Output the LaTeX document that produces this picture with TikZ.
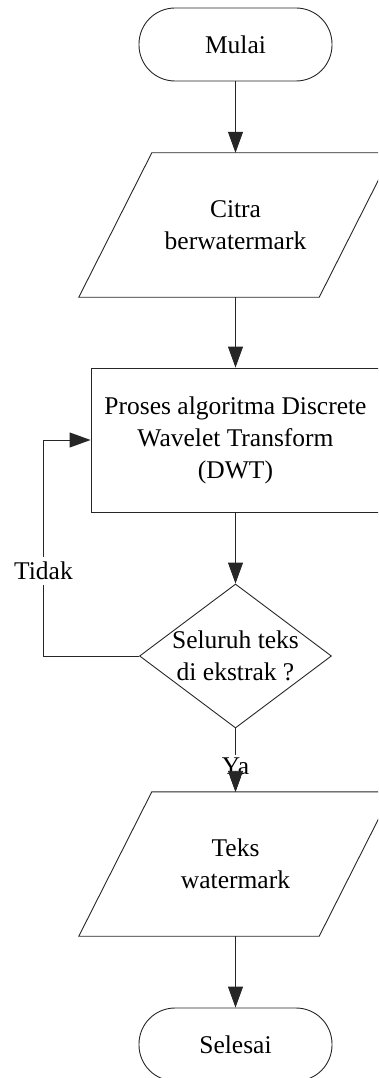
\documentclass[tikz,border=0pt]{standalone}
\usepackage{fontspec}
\setmainfont{Liberation Serif}
\usetikzlibrary{shapes.geometric, arrows.meta}

\begin{document}
\begin{tikzpicture}[x=1pt, y=-1pt,
  every node/.style={font=\fontsize{25.5}{32}\selectfont, text=black},
  line/.style={draw=black!85, line width=0.9pt},
  flow/.style={line, -{Triangle[length=21pt,width=15pt]}},
  term/.style={line, rectangle, rounded corners=36pt, minimum width=193pt,
    minimum height=73pt, inner sep=0pt},
  io/.style={rectangle, minimum width=240pt, minimum height=144pt,
    inner sep=0pt, align=center},
  proc/.style={line, rectangle, minimum width=289pt, minimum height=144pt,
    inner sep=0pt, align=center},
  choice/.style={line, diamond, minimum width=192pt, minimum height=144pt,
    inner sep=0pt},
  tag/.style={fill=white, inner sep=5pt}
]
\useasboundingbox (0,0) rectangle (378,1078);
\clip (0,0) rectangle (378,1078);

% flowchart blocks
\node[term] (start) at (235.5,44.5) {Mulai};
\node[io] (in) at (235.5,225) {Citra\\berwatermark};
\node[proc] (dwt) at (235.5,440) {Proses algoritma Discrete\\Wavelet Transform\\(DWT)};
\node[choice, label={[align=center]center:{Seluruh teks\\di ekstrak ?}}] (dec) at (235.5,656) {};
\node[io] (out) at (235.5,864) {Teks\\watermark};
\node[term] (end) at (235.5,1044.5) {Selesai};

% parallelogram outlines of the input/output blocks
\foreach \blk in {in, out}
  \draw[line] ([xshift=-36.5pt]\blk.south west) -- ([xshift=36.5pt]\blk.north west)
    -- ([xshift=36.5pt]\blk.north east) -- ([xshift=-36.5pt]\blk.south east) -- cycle;

% main flow
\draw[flow] (start) -- (in);
\draw[flow] (in) -- (dwt);
\draw[flow] (dwt) -- (dec);
\draw[flow] (dec.south) -- (out.north);
\draw[flow] (out) -- (end);

% loop back when not all text is extracted
\draw[flow] (dec.west) -- ++(-96,0) |- (dwt.west);
\node[tag] (tidak) at (43.5,571) {Tidak};

% "Ya" label sits on the exit arrow, with the tip drawn over it
\node[tag, inner sep=3pt] (ya) at (235.5,766) {Ya};
\coordinate (yabase) at (235.5,771);
\draw[flow] (yabase) -- (out.north);
\end{tikzpicture}
\end{document}
